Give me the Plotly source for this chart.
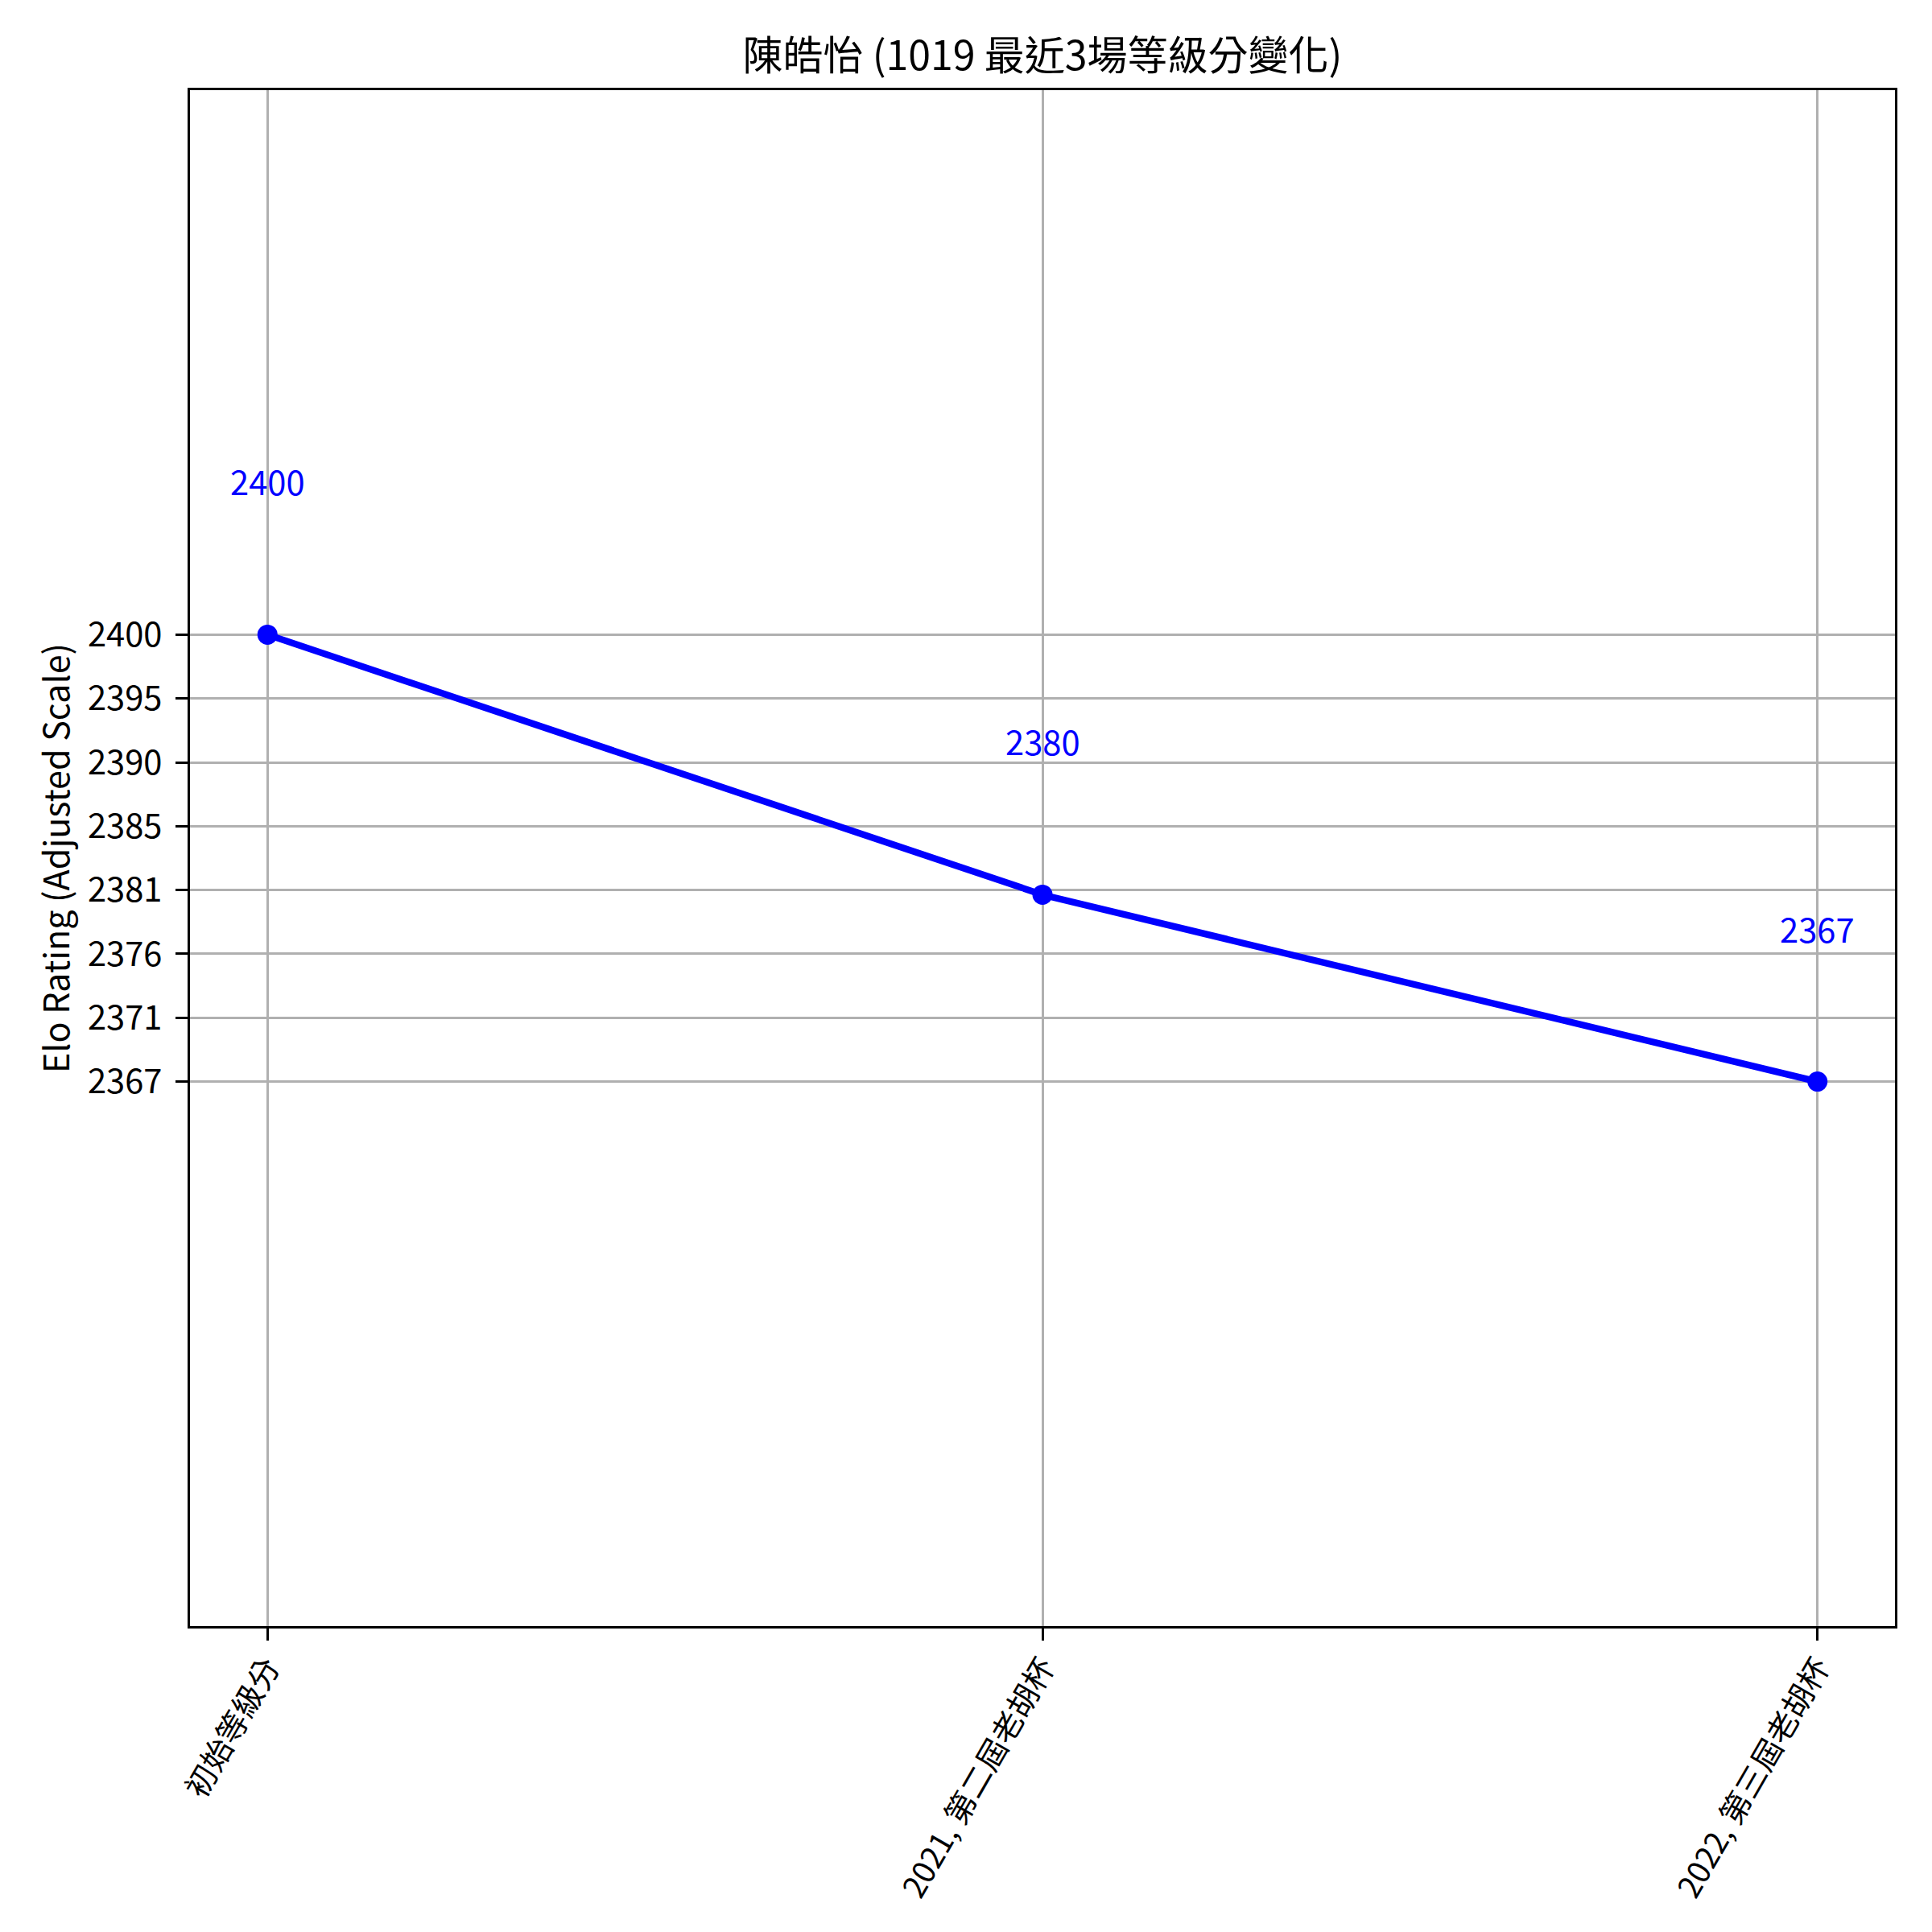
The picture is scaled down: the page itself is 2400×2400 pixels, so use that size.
import numpy as np
import plotly.graph_objects as go

categories = ["初始等級分", "2021, 第二屆老胡杯", "2022, 第三屆老胡杯"]
ratings = [2400, 2380.8, 2367]
title_text = "陳皓怡 (1019 最近3場等級分變化)"
y_title = "Elo Rating (Adjusted Scale)"

FONT = "Noto Sans CJK TC, Noto Sans, sans-serif"
BLUE = "#0000ff"
GRID = "#b0b0b0"

ymin, ymax = min(ratings), max(ratings)
tickvals = list(np.linspace(ymin, ymax, 8))
ticktext = [str(int(v)) for v in tickvals]

fig = go.Figure()
fig.add_trace(go.Scatter(
    x=categories, y=ratings, mode="lines+markers",
    line=dict(color=BLUE, width=8.3),
    marker=dict(color=BLUE, size=25),
    showlegend=False, hoverinfo="skip",
))

for c, v in zip(categories, ratings):
    fig.add_annotation(x=c, y=v, text=str(int(v)), showarrow=False,
                       yshift=191, yanchor="middle", xanchor="center",
                       font=dict(family=FONT, size=41.7, color=BLUE))

# page body has an 8px offset; compensate
OFF = 8
L, R, T, B = 236 - OFF, 46 + OFF, 112 - OFF, 380 + OFF
W = H = 2400
plot_w = W - L - R

fig.add_annotation(xref="paper", yref="paper", x=-169 / plot_w, y=0.5,
                   text=y_title, textangle=-90, showarrow=False,
                   xanchor="center", yanchor="middle",
                   font=dict(family=FONT, size=43, color="black"))

fig.update_layout(
    width=W, height=H,
    margin=dict(l=L, r=R, t=T, b=B, autoexpand=False),
    paper_bgcolor="white", plot_bgcolor="white",
    font=dict(family=FONT, size=41.7, color="black"),
    title=dict(text=title_text, x=0.5, xref="paper", xanchor="center",
               y=1 - (69 - OFF) / H, yref="container", yanchor="middle",
               font=dict(family=FONT, size=50, color="black")),
)
fig.update_xaxes(
    type="category", range=[-0.1, len(categories) - 1 + 0.1],
    automargin=False,
    showgrid=True, gridcolor=GRID, gridwidth=3.3,
    showline=True, linecolor="black", linewidth=3.3, mirror=True,
    ticks="outside", ticklen=15, tickwidth=3.3, tickcolor="black",
    tickangle=-60, ticklabelstandoff=-5,
    tickfont=dict(family=FONT, size=38.5, color="black"),
    zeroline=False,
)
fig.update_yaxes(
    range=[ymin - 40.2, ymax + 40.2],
    automargin=False,
    tickmode="array", tickvals=tickvals, ticktext=ticktext,
    showgrid=True, gridcolor=GRID, gridwidth=3.3,
    showline=True, linecolor="black", linewidth=3.3, mirror=True,
    ticks="outside", ticklen=15, tickwidth=3.3, tickcolor="black",
    ticklabelstandoff=8,
    tickfont=dict(family=FONT, size=41.7, color="black"),
    zeroline=False,
)

fig.write_html("out.html")
